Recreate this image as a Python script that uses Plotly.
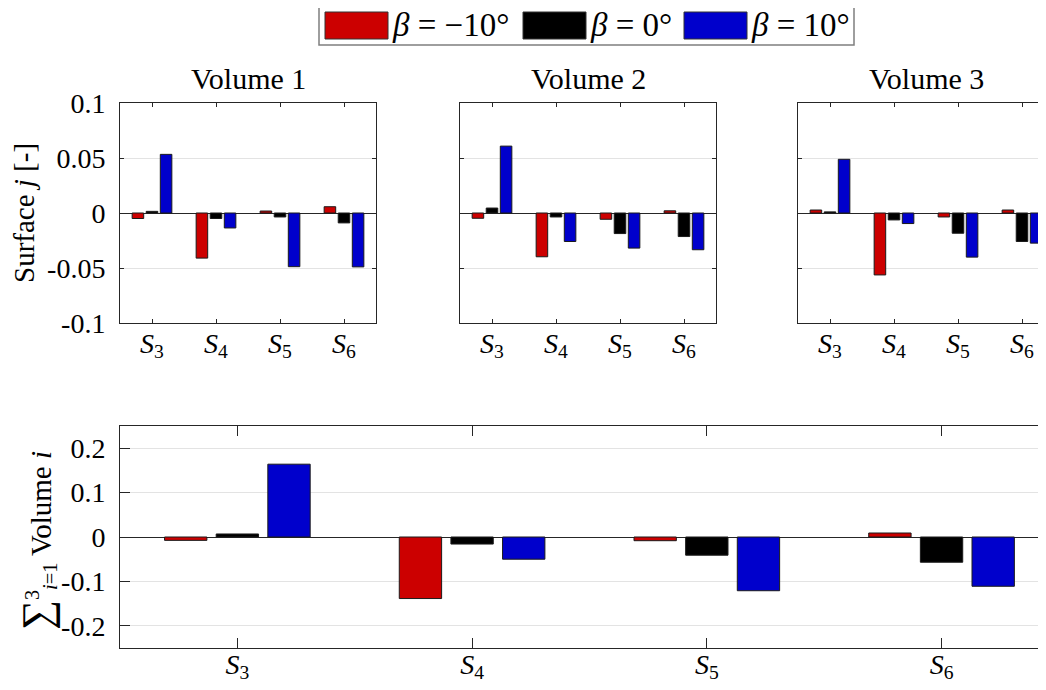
import plotly.graph_objects as go

# ---------------- data ----------------
surfaces = ["S3", "S4", "S5", "S6"]
surface_labels = ["<i>S</i><sub>3</sub>", "<i>S</i><sub>4</sub>",
                  "<i>S</i><sub>5</sub>", "<i>S</i><sub>6</sub>"]
beta_labels = ["<i>β</i> = −10°", "<i>β</i> = 0°", "<i>β</i> = 10°"]
volume_titles = ["Volume 1", "Volume 2", "Volume 3"]

# values per volume, per beta (-10, 0, 10), per surface S3..S6
vol1_m10 = [-0.005, -0.041, 0.0018, 0.0057]
vol1_0 = [0.0015, -0.005, -0.0036, -0.009]
vol1_p10 = [0.0533, -0.0136, -0.0488, -0.049]

vol2_m10 = [-0.0048, -0.0398, -0.0057, 0.002]
vol2_0 = [0.0045, -0.0036, -0.0187, -0.0214]
vol2_p10 = [0.0608, -0.0259, -0.0319, -0.0334]

vol3_m10 = [0.0027, -0.0563, -0.0036, 0.0027]
vol3_0 = [0.001, -0.0063, -0.0184, -0.0259]
vol3_p10 = [0.0488, -0.0096, -0.0401, -0.0274]

sum_m10 = [-0.0076, -0.1386, -0.0083, 0.009]
sum_0 = [0.0068, -0.0159, -0.041, -0.0568]
sum_p10 = [0.164, -0.05, -0.121, -0.111]

top_ticks = [-0.1, -0.05, 0, 0.05, 0.1]
top_ticktext = ["-0.1", "-0.05", "0", "0.05", "0.1"]
bot_ticks = [-0.2, -0.1, 0, 0.1, 0.2]
bot_ticktext = ["-0.2", "-0.1", "0", "0.1", "0.2"]

colors = ["#CC0000", "#000000", "#0000CC"]

# ---------------- layout helpers ----------------
W, H = 1046, 690
OFF = 8                      # page body margin of the browser
FW, FH = W - OFF, H - OFF    # figure size so that it fills the window
FONT = "Liberation Serif, DejaVu Serif, serif"
AX = "#262626"
GRID = "#e3e3e3"


def px(x):
    return (x - OFF) / FW


def py(y):
    return 1 - (y - OFF) / FH


xpos = list(range(len(surfaces)))
volumes = [
    [vol1_m10, vol1_0, vol1_p10],
    [vol2_m10, vol2_0, vol2_p10],
    [vol3_m10, vol3_0, vol3_p10],
]
summed = [sum_m10, sum_0, sum_p10]

fig = go.Figure()

for p, series in enumerate(volumes):
    sfx = "" if p == 0 else str(p + 1)
    for s, vals in enumerate(series):
        fig.add_trace(go.Bar(
            x=xpos, y=vals, xaxis="x" + sfx, yaxis="y" + sfx,
            marker=dict(color=colors[s], line=dict(color="#1a1a1a", width=1)),
            showlegend=False, name=beta_labels[s],
        ))

for s, vals in enumerate(summed):
    fig.add_trace(go.Bar(
        x=xpos, y=vals, xaxis="x4", yaxis="y4",
        marker=dict(color=colors[s], line=dict(color="#1a1a1a", width=1)),
        showlegend=False, name=beta_labels[s],
    ))

top_dom_y = [py(323), py(103)]
bot_dom_y = [py(648), py(426)]
x_doms = [[px(120), px(376)], [px(460), px(716)], [px(798), 1.0]]
x_ranges = [[-0.5, 3.5], [-0.5, 3.5], [-0.5, 3.375]]

common_x = dict(
    tickvals=xpos, ticktext=surface_labels, tickfont=dict(family=FONT, size=28, color="black"),
    showline=True, linecolor=AX, linewidth=1, ticks="inside", tickcolor=AX,
    showgrid=False, zeroline=False, ticklabelstandoff=-5, automargin=False,
)
common_y = dict(
    showline=True, linecolor=AX, linewidth=1, ticks="inside", tickcolor=AX,
    showgrid=True, gridcolor=GRID, gridwidth=1,
    zeroline=True, zerolinecolor=AX, zerolinewidth=1,
    tickfont=dict(family=FONT, size=28, color="black"), ticklabelstandoff=8,
    automargin=False,
)

layout = dict(
    width=FW, height=FH, margin=dict(l=0, r=0, t=0, b=0, pad=0),
    paper_bgcolor="white", plot_bgcolor="white",
    barmode="group", bargap=0.34, bargroupgap=0.18,
    font=dict(family=FONT, size=28, color="black"),
    showlegend=False,
)

for p in range(3):
    sfx = "" if p == 0 else str(p + 1)
    xa = dict(common_x)
    xa.update(domain=x_doms[p], range=x_ranges[p], anchor="y" + sfx,
              mirror="ticks", ticklen=4)
    ya = dict(common_y)
    ya.update(domain=top_dom_y, range=[-0.1, 0.1], anchor="x" + sfx,
              tickvals=top_ticks, ticktext=top_ticktext, ticklen=4,
              mirror="ticks" if p < 2 else False,
              showticklabels=(p == 0))
    layout["xaxis" + sfx] = xa
    layout["yaxis" + sfx] = ya

xa = dict(common_x)
xa.update(domain=[px(120), 1.0], range=[-0.5, 3.445], anchor="y4",
          mirror="ticks", ticklen=10, ticklabelstandoff=-9)
ya = dict(common_y)
ya.update(domain=bot_dom_y, range=[-0.25, 0.25], anchor="x4",
          tickvals=bot_ticks, ticktext=bot_ticktext, ticklen=10, mirror=False)
layout["xaxis4"] = xa
layout["yaxis4"] = ya

annotations = []
centers = [px(248), px(588), px(926)]
for p in range(3):
    annotations.append(dict(
        text=volume_titles[p], x=centers[p], y=py(78), xref="paper", yref="paper",
        xanchor="center", yanchor="middle", showarrow=False,
        font=dict(family=FONT, size=30, color="black"),
    ))
annotations.append(dict(
    text="Surface <i>j</i> [-]", x=px(24), y=py(213), xref="paper", yref="paper",
    xanchor="center", yanchor="middle", textangle=-90, showarrow=False,
    font=dict(family=FONT, size=29, color="black"),
))
annotations.append(dict(
    text='<span style="font-size:42px">∑</span><sup>3</sup><sub><i>i</i>=1</sub> Volume <i>i</i>',
    x=px(37), y=py(541),
    xref="paper", yref="paper",
    xanchor="center", yanchor="middle", textangle=-90, showarrow=False,
    font=dict(family=FONT, size=29, color="black"),
))

# custom legend (large swatches as in the reference)
shapes = [dict(type="rect", xref="paper", yref="paper",
               x0=px(319), x1=px(854), y0=py(45), y1=py(3),
               line=dict(color="#7f7f7f", width=1.5), fillcolor="white")]
sw_left = [325, 523, 684]
for s in range(3):
    shapes.append(dict(type="rect", xref="paper", yref="paper",
                       x0=px(sw_left[s]), x1=px(sw_left[s] + 63),
                       y0=py(39), y1=py(12),
                       line=dict(color="#333333", width=1), fillcolor=colors[s]))
    annotations.append(dict(
        text=beta_labels[s], x=px(sw_left[s] + 65), y=py(25), xref="paper", yref="paper",
        xanchor="left", yanchor="middle", showarrow=False,
        font=dict(family=FONT, size=33, color="black"),
    ))

layout["annotations"] = annotations
layout["shapes"] = shapes
fig.update_layout(**layout)

fig.write_html("out.html")
